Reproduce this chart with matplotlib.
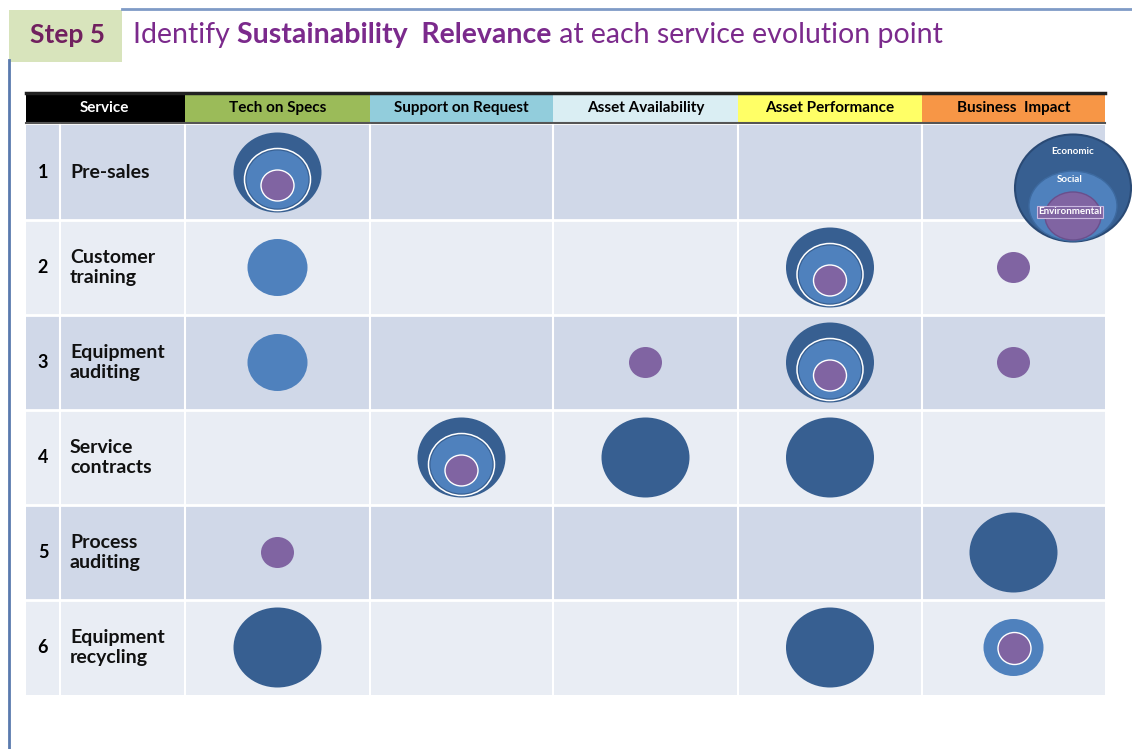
import matplotlib
matplotlib.use('Agg')
import matplotlib.pyplot as plt
from matplotlib.patches import Ellipse, Rectangle

plt.rcParams['font.family'] = ['Lato', 'DejaVu Sans']

# table content
numbers = ['1', '2', '3', '4', '5', '6']
services = ['Pre-sales', 'Customer\ntraining', 'Equipment\nauditing',
            'Service\ncontracts', 'Process\nauditing', 'Equipment\nrecycling']
stages = ['Tech on Specs', 'Support on Request', 'Asset Availability',
          'Asset Performance', 'Business  Impact']
stage_colors = ['#9bbb59', '#92cddc', '#daeef3', '#ffff66', '#f79646']

# relevance per cell: E = economic, S = social, V = environmental
relevance = [
    ['ESV', '',    '',  '',    ''],
    ['S',   '',    '',  'ESV', 'V'],
    ['S',   '',    'V', 'ESV', 'V'],
    ['',    'ESV', 'E', 'E',   ''],
    ['V',   '',    '',  '',    'E'],
    ['E',   '',    '',  'E',   'SV'],
]

legend_labels = ['Economic', 'Social', 'Environmental']

# colours / sizes (pixels)
C_ECO, C_SOC, C_ENV = '#375f91', '#4f81bd', '#8064a2'
SIZE = {'E': (88, 80), 'S': (60, 57), 'V': (33, 31)}
row_bg = ['#d0d8e8', '#e9edf4']

W, H = 1132, 749
fig = plt.figure(figsize=(W / 100, H / 100), dpi=100)
ax = fig.add_axes([0, 0, 1, 1])
ax.set_xlim(0, W)
ax.set_ylim(H, 0)
ax.axis('off')

# frame and title
ax.plot([9, 9], [60, H], color='#5a7aae', lw=2)
ax.plot([122, W], [9, 9], color='#7f9bc6', lw=2)
ax.add_patch(Rectangle((9, 10), 113, 52, color='#d8e4bc', lw=0))
title_color = '#7b2a8c'
ax.text(30, 35, 'Step 5', fontsize=19, fontweight='bold', color='#71205f', va='center')
parts = [('Identify ', 'normal'), ('Sustainability  Relevance', 'bold'),
         (' at each service evolution point', 'normal')]
renderer = fig.canvas.get_renderer()
x = 133
for txt, wgt in parts:
    tt = ax.text(x, 35, txt, fontsize=20.5, color=title_color, va='center', fontweight=wgt)
    x += tt.get_window_extent(renderer=renderer).width

# table geometry
col_edges = [26, 60, 185, 370, 553, 738, 922, 1105]
hdr_top, hdr_bot = 93, 123
row_top, row_h = 125, 95

# header
ax.add_patch(Rectangle((col_edges[0], hdr_top), col_edges[2] - col_edges[0],
                       hdr_bot - hdr_top, color='black', lw=0))
ax.text(104, (hdr_top + hdr_bot) / 2, 'Service',
        color='white', fontsize=11, fontweight='bold', ha='center', va='center')
for j, (name, col) in enumerate(zip(stages, stage_colors)):
    x0, x1 = col_edges[j + 2], col_edges[j + 3]
    ax.add_patch(Rectangle((x0, hdr_top), x1 - x0, hdr_bot - hdr_top, color=col, lw=0))
    ax.text((x0 + x1) / 2, (hdr_top + hdr_bot) / 2, name, fontsize=11,
            fontweight='bold', ha='center', va='center', color='black')
ax.plot([col_edges[0], col_edges[-1]], [hdr_top, hdr_top], color='#222222', lw=2.5)
ax.plot([col_edges[0], col_edges[-1]], [hdr_bot, hdr_bot], color='#555555', lw=1.5)


def cell_marks(cx, cy, code):
    if 'E' in code:
        w, h = SIZE['E']
        ax.add_patch(Ellipse((cx, cy), w, h, facecolor=C_ECO, edgecolor='none', zorder=3))
        if 'S' in code:
            w2, h2 = SIZE['S']
            ax.add_patch(Ellipse((cx, cy + 7), w2 + 6, h2 + 5, facecolor='none',
                                 edgecolor='white', lw=1.1, zorder=4))
            ax.add_patch(Ellipse((cx, cy + 7), w2 + 2, h2 + 1, facecolor=C_SOC,
                                 edgecolor='none', zorder=4))
        if 'V' in code:
            w3, h3 = SIZE['V']
            ax.add_patch(Ellipse((cx, cy + 13), w3, h3, facecolor=C_ENV,
                                 edgecolor='white', lw=1, zorder=5))
    elif 'S' in code:
        w2, h2 = SIZE['S']
        ax.add_patch(Ellipse((cx, cy), w2, h2, facecolor=C_SOC, edgecolor='none', zorder=3))
        if 'V' in code:
            w3, h3 = SIZE['V']
            ax.add_patch(Ellipse((cx + 1, cy + 1), w3, h3 + 1, facecolor=C_ENV,
                                 edgecolor='white', lw=1, zorder=4))
    elif 'V' in code:
        w3, h3 = SIZE['V']
        ax.add_patch(Ellipse((cx, cy), w3, h3, facecolor=C_ENV, edgecolor='none', zorder=3))


for i, (num, svc) in enumerate(zip(numbers, services)):
    y0 = row_top + i * row_h
    cy = y0 + row_h / 2
    ax.add_patch(Rectangle((col_edges[0], y0), col_edges[-1] - col_edges[0], row_h,
                           facecolor=row_bg[i % 2], edgecolor='none', zorder=1))
    ax.text(43, cy, num, fontsize=13, fontweight='bold', ha='center', va='center', zorder=2)
    ax.text(70, cy, svc, fontsize=14, fontweight='bold', ha='left', va='center',
            linespacing=1.2, zorder=2, color='#111111')
    for j, code in enumerate(relevance[i]):
        cx = (col_edges[j + 2] + col_edges[j + 3]) / 2
        if code:
            cell_marks(cx, cy, code)

# white grid lines
for i in range(1, len(services)):
    y = row_top + i * row_h
    ax.plot([col_edges[0], col_edges[-1]], [y, y], color='white', lw=2, zorder=2)
for xe in col_edges[1:-1]:
    ax.plot([xe, xe], [row_top, row_top + len(services) * row_h], color='white', lw=1.5, zorder=2)

# legend bubble
lx, ly = 1073, 188
ax.add_patch(Ellipse((lx, ly), 116, 107, facecolor=C_ECO, edgecolor='#2a4a75', lw=1.5, zorder=6))
ax.add_patch(Ellipse((lx, ly + 18), 88, 70, facecolor=C_SOC, edgecolor='#3d6aa0', lw=1, zorder=7))
ax.add_patch(Ellipse((lx, ly + 28), 56, 48, facecolor=C_ENV, edgecolor='#6a4f8c', lw=1, zorder=8))
ax.text(lx, ly - 37, legend_labels[0], fontsize=7, fontweight='bold', color='white',
        ha='center', va='center', zorder=9)
ax.text(lx - 3, ly - 9, legend_labels[1], fontsize=7, fontweight='bold', color='white',
        ha='center', va='center', zorder=9)
ax.text(lx - 3, ly + 24, legend_labels[2], fontsize=7, fontweight='bold', color='white',
        ha='center', va='center', zorder=9,
        bbox=dict(boxstyle='square,pad=0.15', facecolor=C_ENV, edgecolor='#c9b8e0', lw=0.8))

fig.savefig('out.png', dpi=100)
